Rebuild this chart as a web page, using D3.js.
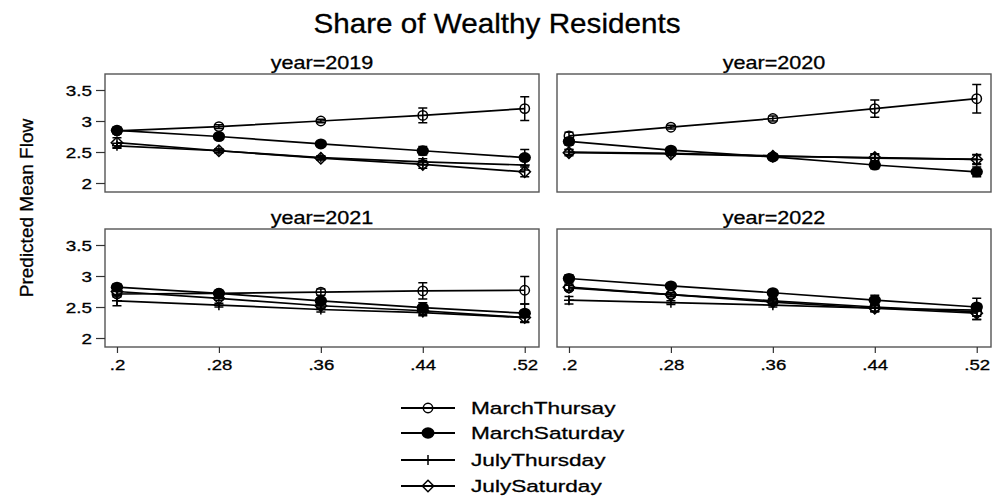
<!DOCTYPE html>
<html>
<head>
<meta charset="utf-8">
<script src="https://cdn.jsdelivr.net/npm/d3@7"></script>
<style>
body{margin:0;background:#fff;}
text{font-family:"Liberation Sans",Arial,Helvetica,sans-serif;fill:#000;stroke:#000;stroke-width:0.3px;}
</style>
</head>
<body>
<svg width="993" height="496"></svg>
<script>
// x positions (share of wealthy residents) and facets
var xValues=[.2,.28,.36,.44,.52];
var years=[2019,2020,2021,2022];
var seriesNames=["MarchThursay","MarchSaturday","JulyThursday","JulySaturday"];
var yTicks=[2,2.5,3,3.5];

// predicted mean flow, one row per year
var marchThursay=[
 [2.84,2.91,3.00,3.09,3.20],
 [2.76,2.90,3.04,3.20,3.36],
 [2.71,2.72,2.74,2.76,2.77],
 [2.81,2.70,2.60,2.50,2.42]];
var marchSaturday=[
 [2.85,2.75,2.63,2.52,2.41],
 [2.67,2.53,2.42,2.29,2.18],
 [2.82,2.72,2.60,2.49,2.40],
 [2.96,2.84,2.73,2.61,2.50]];
var julyThursday=[
 [2.60,2.52,2.41,2.34,2.29],
 [2.50,2.48,2.44,2.40,2.38],
 [2.60,2.53,2.46,2.41,2.33],
 [2.61,2.57,2.53,2.48,2.45]];
var julySaturday=[
 [2.65,2.52,2.40,2.30,2.18],
 [2.49,2.47,2.43,2.41,2.38],
 [2.75,2.64,2.52,2.44,2.33],
 [2.82,2.70,2.58,2.48,2.40]];

// half widths of the confidence intervals
var marchThursayCI=[
 [.04,.03,.03,.12,.19],
 [.06,.03,.04,.14,.23],
 [.05,.03,.05,.13,.22],
 [.04,.03,.04,.07,.12]];
var marchSaturdayCI=[
 [.05,.03,.03,.07,.13],
 [.06,.03,.04,.06,.08],
 [.05,.03,.04,.08,.15],
 [.06,.03,.03,.08,.14]];
var julyThursdayCI=[
 [.04,.03,.03,.05,.08],
 [.04,.03,.03,.07,.07],
 [.08,.03,.04,.05,.07],
 [.06,.03,.03,.05,.10]];
var julySaturdayCI=[
 [.08,.03,.03,.06,.08],
 [.05,.03,.03,.05,.08],
 [.05,.03,.04,.06,.07],
 [.05,.03,.04,.06,.10]];

var seriesValues=[marchThursay,marchSaturday,julyThursday,julySaturday];
var seriesCI=[marchThursayCI,marchSaturdayCI,julyThursdayCI,julySaturdayCI];
var symbols=["ocircle","circle","plus","diamond"];

var svg=d3.select("svg");
var panelW=434,panelH=118;
var panelLeft=105,panelTop=74,colStep=452,rowStep=155;

var x=d3.scaleLinear().domain([.1906,.5312]).range([0,panelW]);
var y=d3.scaleLinear().domain([1.855,3.758]).range([panelH,0]);

var line=d3.line().x(d=>x(d[0])).y(d=>y(d[1]));

// stretched text like the original export
function stretch(sel,sx){
	sel.each(function(){
		var t=d3.select(this);
		var tx=+t.attr("x")||0, ty=+t.attr("y")||0;
		t.attr("x",0).attr("y",0)
		 .attr("transform","translate("+tx+","+ty+") scale("+sx+",1)");
	});
}

function drawSymbol(g,type,cx,cy,big){
	var k=big||1;
	if(type=="ocircle"){
		g.append("circle").attr("cx",cx).attr("cy",cy).attr("r",4.7*k)
		.attr("fill","none").attr("stroke","#000").attr("stroke-width",1.5);
	}else if(type=="circle"){
		g.append("ellipse").attr("cx",cx).attr("cy",cy).attr("rx",6.2*k).attr("ry",5.5*k)
		.attr("fill","#000");
	}else if(type=="plus"){
		g.append("path")
		.attr("d","M"+(cx-5*k)+","+cy+"H"+(cx+5*k)+"M"+cx+","+(cy-5*k)+"V"+(cy+5*k))
		.attr("stroke","#000").attr("stroke-width",1.5);
	}else{
		var r=5.7*k;
		g.append("path")
		.attr("d","M"+cx+","+(cy-r)+"L"+(cx+r)+","+cy+"L"+cx+","+(cy+r)+"L"+(cx-r)+","+cy+"Z")
		.attr("fill","none").attr("stroke","#000").attr("stroke-width",1.5);
	}
}

years.forEach(function(yr,i){
	var col=i%2,row=Math.floor(i/2);
	var g=svg.append("g")
	.attr("transform","translate("+(panelLeft+col*colStep)+","+(panelTop+row*rowStep)+")");

	g.append("text")
	.attr("x",panelW/2).attr("y",-5)
	.attr("text-anchor","middle")
	.style("font-size","18px")
	.text("year="+yr)
	.call(stretch,1.2);

	g.append("rect")
	.attr("width",panelW).attr("height",panelH)
	.attr("fill","none").attr("stroke","#555").attr("stroke-width",1.4);

	if(col==0){
		var ya=g.append("g").call(d3.axisLeft(y).tickValues(yTicks).tickSize(9).tickPadding(4).tickFormat(d3.format("")));
		ya.select(".domain").remove();
		ya.selectAll("line").attr("stroke","#333").attr("stroke-width",1.2);
		ya.selectAll("text").style("font-size","15.5px").attr("fill","#000").attr("dy","0.36em")
		.attr("x",0).attr("transform","translate(-13,0) scale(1.22,1)");
	}
	if(row==1){
		var xa=g.append("g").attr("transform","translate(0,"+panelH+")")
		.call(d3.axisBottom(x).tickValues(xValues).tickSize(6).tickPadding(6)
		.tickFormat(d=>String(d).replace(/^0/,"")));
		xa.select(".domain").remove();
		xa.selectAll("line").attr("stroke","#333").attr("stroke-width",1.2);
		xa.selectAll("text").style("font-size","15.5px").attr("fill","#000")
		.attr("transform","scale(1.2,1)");
	}

	seriesValues.forEach(function(vals,s){
		var pts=xValues.map((xv,j)=>[xv,vals[i][j],seriesCI[s][i][j]]);
		g.append("path").datum(pts).attr("d",line)
		.attr("fill","none").attr("stroke","#000").attr("stroke-width",1.7);
		pts.forEach(function(p){
			var cx=x(p[0]),y0=y(p[1]-p[2]),y1=y(p[1]+p[2]);
			g.append("path")
			.attr("d","M"+cx+","+y0+"V"+y1+"M"+(cx-4.5)+","+y0+"H"+(cx+4.5)+"M"+(cx-4.5)+","+y1+"H"+(cx+4.5))
			.attr("stroke","#000").attr("stroke-width",1.5).attr("fill","none");
		});
		pts.forEach(function(p){ drawSymbol(g,symbols[s],x(p[0]),y(p[1])); });
	});
});

// title
svg.append("text").attr("x",497).attr("y",33).attr("text-anchor","middle")
.style("font-size","28px").text("Share of Wealthy Residents").call(stretch,1.06);

// y axis title
svg.append("text")
.attr("transform","translate(33,208) rotate(-90)")
.attr("text-anchor","middle")
.style("font-size","19px")
.text("Predicted Mean Flow");

// legend
var legend=svg.append("g").attr("transform","translate(401,408)");
seriesNames.forEach(function(name,s){
	var ly=[0,25,52,78][s];
	legend.append("line").attr("x1",0).attr("x2",54).attr("y1",ly).attr("y2",ly)
	.attr("stroke","#000").attr("stroke-width",1.8);
	drawSymbol(legend,symbols[s],27,ly,s==1?1.05:1);
	legend.append("text").attr("x",70).attr("y",ly+6)
	.style("font-size","17px").text(name).call(stretch,1.33);
});
</script>
</body>
</html>
